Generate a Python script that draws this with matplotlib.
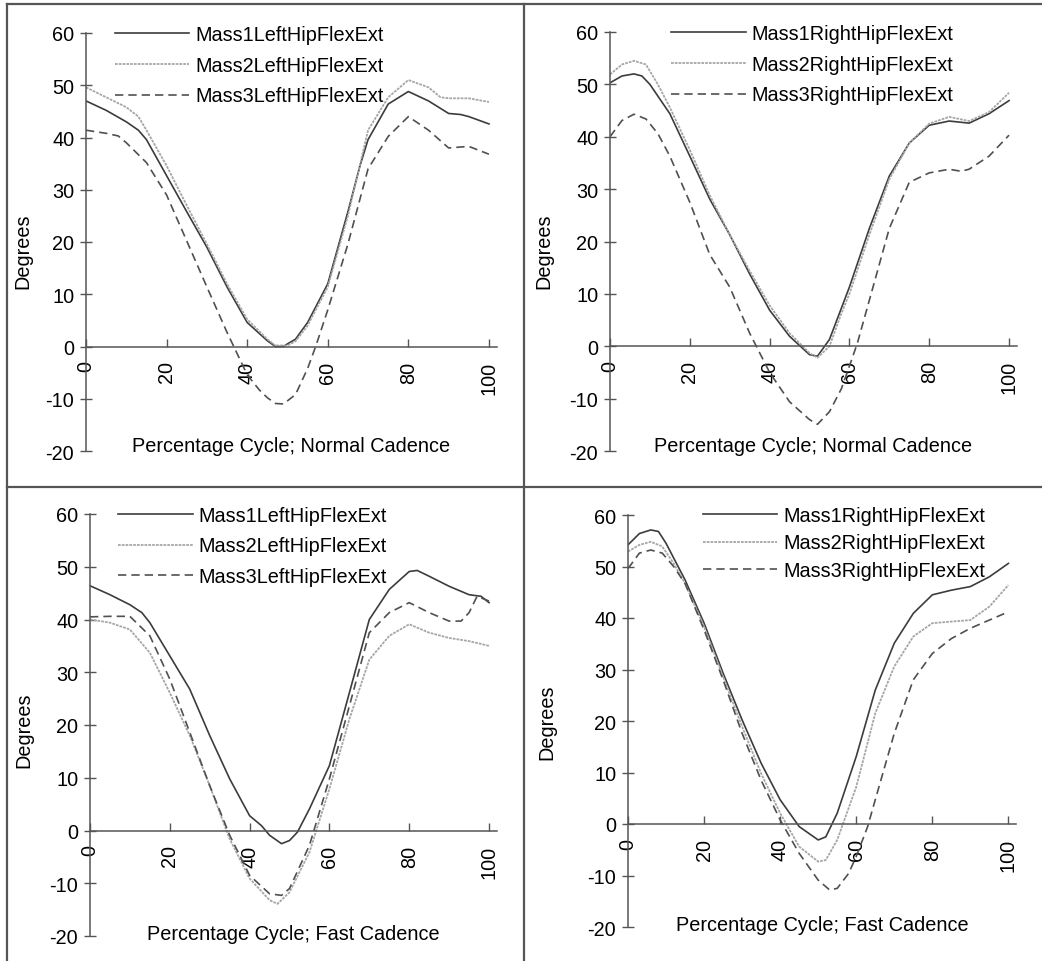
import matplotlib

matplotlib.use("Agg")
import matplotlib.pyplot as plt
from matplotlib.lines import Line2D

plt.rcParams.update({
    "font.family": ["Liberation Sans", "DejaVu Sans"],
    "font.size": 14.3,
    "axes.unicode_minus": False,
})

W, H = 1042, 962
FS = 14.3

# ---- data (percentage cycle -> degrees) ----
# Panel 1: left hip, normal cadence
p1_m1_x = [0, 5, 10, 13, 15, 20, 25, 30, 35, 40, 45, 47, 49, 50, 52, 55, 60, 65, 68, 70, 75, 80, 85, 90, 93, 95, 100]
p1_m1_y = [47, 45.2, 43, 41.4, 39.6, 32.7, 25.8, 19, 11.4, 4.6, 1.1, 0, 0, 0.5, 1.4, 4.6, 12, 25.8, 34.6, 39.6, 46.4, 48.8, 47, 44.6, 44.4, 44, 42.6]
p1_m2_x = [0, 5, 10, 13, 15, 20, 25, 30, 35, 40, 45, 47, 50, 52, 55, 60, 65, 70, 75, 80, 85, 88, 90, 95, 100]
p1_m2_y = [49.6, 47.7, 45.8, 44, 41.4, 34.6, 27, 19.6, 12, 5.2, 1.4, 0.2, 0.2, 1, 4, 11.4, 25, 41.4, 47.7, 51, 49.6, 47.7, 47.5, 47.5, 46.8]
p1_m3_x = [0, 5, 8, 10, 15, 20, 25, 30, 35, 40, 43, 45, 47, 49, 52, 55, 57, 60, 65, 70, 75, 80, 85, 90, 95, 100]
p1_m3_y = [41.4, 40.8, 40.3, 39, 35.2, 29, 20.2, 11.4, 2.7, -5.4, -8.3, -9.8, -10.9, -11, -9.2, -4.2, 0, 7, 19.6, 34, 40.2, 44, 41.4, 38, 38.3, 36.8]

# Panel 2: right hip, normal cadence
p2_m1_x = [0, 3, 6, 8, 10, 15, 20, 25, 30, 35, 40, 45, 50, 52, 55, 60, 65, 70, 75, 80, 85, 90, 95, 100]
p2_m1_y = [50.3, 51.6, 52, 51.6, 50, 44.4, 36.3, 28.1, 21.3, 13.8, 6.9, 1.9, -1.6, -1.9, 1.3, 11.3, 22.5, 32.5, 38.8, 42.2, 43, 42.6, 44.4, 46.9]
p2_m2_x = [0, 3, 6, 9, 12, 15, 20, 25, 30, 35, 40, 45, 50, 52, 55, 58, 60, 65, 70, 75, 80, 85, 90, 95, 100]
p2_m2_y = [51.9, 53.8, 54.5, 53.8, 50, 45.6, 37.5, 28.8, 21.3, 14.4, 7.8, 2.5, -1.3, -2.2, 0, 6.3, 10, 21.3, 31.9, 38.8, 42.5, 43.8, 43, 44.7, 48.4]
p2_m3_x = [0, 3, 6, 9, 12, 15, 20, 25, 30, 35, 40, 45, 50, 52, 55, 58, 60, 62, 65, 70, 75, 80, 85, 88, 90, 95, 100]
p2_m3_y = [40, 43.1, 44.3, 43.4, 40.6, 36.3, 27.5, 17.5, 11.3, 2.5, -5, -10.6, -14, -14.9, -12.5, -8.1, -3.8, 0.6, 8.8, 22.5, 31.3, 33.1, 33.8, 33.4, 33.8, 36.3, 40.3]

# Panel 3: left hip, fast cadence
p3_m1_x = [0, 5, 10, 13, 15, 20, 25, 30, 35, 40, 43, 45, 48, 50, 52, 55, 60, 65, 70, 75, 80, 82, 85, 90, 95, 98, 100]
p3_m1_y = [46.4, 44.7, 42.8, 41.3, 39.4, 33.1, 26.8, 18, 9.8, 2.8, 0.9, -0.9, -2.5, -1.9, -0.3, 4.1, 12.3, 26.1, 40, 45.7, 49.1, 49.3, 48.2, 46.3, 44.7, 44.4, 43.2]
p3_m2_x = [0, 5, 10, 15, 20, 25, 30, 35, 40, 45, 47, 50, 55, 60, 65, 70, 75, 80, 85, 90, 95, 100]
p3_m2_y = [40, 39.4, 38.1, 33.7, 26.1, 18, 8.5, -1.6, -9.1, -13.2, -13.9, -11.7, -4.1, 7.9, 21.1, 32.4, 36.9, 39.1, 37.5, 36.5, 35.9, 35]
p3_m3_x = [0, 5, 10, 15, 20, 25, 30, 35, 40, 45, 48, 50, 55, 60, 65, 70, 75, 80, 85, 90, 93, 95, 97, 100]
p3_m3_y = [40.5, 40.6, 40.6, 36.9, 28.7, 18.6, 8.5, -0.9, -8.5, -12, -12.3, -11, -2.8, 9.8, 23.6, 37.5, 41.3, 43.2, 41.3, 39.7, 39.7, 41.3, 44.4, 43.5]

# Panel 4: right hip, fast cadence
p4_m1_x = [0, 3, 6, 8, 10, 15, 20, 25, 30, 35, 40, 45, 50, 52, 55, 60, 65, 70, 75, 80, 85, 90, 95, 100]
p4_m1_y = [54.2, 56.4, 57.1, 56.8, 54.5, 47.4, 39, 29.3, 20.2, 11.8, 4.7, -0.5, -3.1, -2.5, 2.1, 13.1, 26, 35.1, 40.9, 44.5, 45.4, 46.1, 48, 50.6]
p4_m2_x = [0, 3, 6, 9, 12, 15, 20, 25, 30, 35, 40, 45, 50, 52, 55, 60, 65, 70, 75, 80, 85, 90, 95, 100]
p4_m2_y = [52.9, 54.2, 54.8, 53.9, 50.6, 46.7, 38.3, 28.6, 18.9, 9.8, 2.1, -4.4, -7.3, -7, -3.1, 7.2, 21.5, 30.6, 36.4, 39, 39.3, 39.6, 42.2, 46.4]
p4_m3_x = [0, 3, 6, 9, 12, 15, 20, 25, 30, 35, 40, 45, 50, 53, 55, 58, 60, 63, 65, 70, 75, 80, 85, 90, 95, 100]
p4_m3_y = [49.6, 52.6, 53.2, 52.6, 50, 46.7, 37.7, 28, 17.6, 8.5, 0.8, -5.7, -10.9, -12.8, -12.5, -9.6, -6.3, -0.5, 4.7, 17.6, 28, 33.1, 36, 38, 39.6, 41.2]

left_labels = ["Mass1LeftHipFlexExt", "Mass2LeftHipFlexExt", "Mass3LeftHipFlexExt"]
right_labels = ["Mass1RightHipFlexExt", "Mass2RightHipFlexExt", "Mass3RightHipFlexExt"]
x_ticks = [0, 20, 40, 60, 80, 100]
y_ticks = [-20, -10, 0, 10, 20, 30, 40, 50, 60]

SERIES_STYLE = [
    {"color": "#3c3c3c", "linestyle": "-", "linewidth": 1.2},
    {"color": "#a6a6a6", "linestyle": (0, (1.5, 0.6)), "linewidth": 1.3},
    {"color": "#505050", "linestyle": (0, (5, 3)), "linewidth": 1.2},
]

# pixel boxes: (left px, right px, top px, bottom px), legend (x frac, y frac, spacing),
# ylabel position (axes frac), xlabel y (data)
PANELS = [
    {"box": (86, 497, 34, 452), "x": [p1_m1_x, p1_m2_x, p1_m3_x], "y": [p1_m1_y, p1_m2_y, p1_m3_y],
     "labels": left_labels, "xlabel": "Percentage Cycle; Normal Cadence",
     "leg": (0.07, 1.02, 0.6), "ylab": (-0.13, 0.48), "xlab_y": -19},
    {"box": (610, 1017, 33, 452), "x": [p2_m1_x, p2_m2_x, p2_m3_x], "y": [p2_m1_y, p2_m2_y, p2_m3_y],
     "labels": right_labels, "xlabel": "Percentage Cycle; Normal Cadence",
     "leg": (0.15, 1.02, 0.6), "ylab": (-0.138, 0.48), "xlab_y": -19},
    {"box": (90, 497, 515, 937), "x": [p3_m1_x, p3_m2_x, p3_m3_x], "y": [p3_m1_y, p3_m2_y, p3_m3_y],
     "labels": left_labels, "xlabel": "Percentage Cycle; Fast Cadence",
     "leg": (0.069, 1.02, 0.6), "ylab": (-0.14, 0.49), "xlab_y": -19.5},
    {"box": (628, 1016, 516, 928), "x": [p4_m1_x, p4_m2_x, p4_m3_x], "y": [p4_m1_y, p4_m2_y, p4_m3_y],
     "labels": right_labels, "xlabel": "Percentage Cycle; Fast Cadence",
     "leg": (0.193, 1.022, 0.43), "ylab": (-0.185, 0.5), "xlab_y": -19.5},
]


def draw_panel(fig, cfg):
    l, r, t, b = cfg["box"]
    ax = fig.add_axes([l / W, 1 - b / H, (r - l) / W, (b - t) / H])
    ax.patch.set_alpha(0)
    for xs, ys, style, label in zip(cfg["x"], cfg["y"], SERIES_STYLE, cfg["labels"]):
        ax.plot(xs, ys, label=label, **style)

    ax.set_xlim(0, 102)
    ax.set_ylim(-20, 60)
    for side in ("top", "right"):
        ax.spines[side].set_visible(False)
    ax.spines["bottom"].set_position(("data", 0))
    for side in ("left", "bottom"):
        ax.spines[side].set_color("#555555")
        ax.spines[side].set_linewidth(1.1)
    ax.set_xticks(x_ticks)
    ax.set_yticks(y_ticks)
    ax.tick_params(axis="x", direction="in", length=6, width=1, color="#555555",
                   labelsize=FS, pad=10, labelrotation=90)
    ax.tick_params(axis="y", direction="inout", length=9, width=1, color="#555555",
                   labelsize=FS, pad=4)

    ax.set_ylabel("Degrees", fontsize=FS)
    ax.yaxis.set_label_coords(*cfg["ylab"])
    ax.text(51, cfg["xlab_y"], cfg["xlabel"], fontsize=FS, ha="center", va="center")

    lx, ly, spacing = cfg["leg"]
    ax.legend(loc="upper left", bbox_to_anchor=(lx, ly), frameon=False, fontsize=FS,
              handlelength=3.75, handletextpad=0.3, labelspacing=spacing,
              borderpad=0, borderaxespad=0)


def main():
    fig = plt.figure(figsize=(W / 100, H / 100), dpi=100)
    for cfg in PANELS:
        draw_panel(fig, cfg)

    # panel frame lines
    frame = dict(color="#555555", linewidth=1.6, transform=fig.transFigure)
    fig.add_artist(Line2D([7 / W, 1], [1 - 5 / H, 1 - 5 / H], **frame))
    fig.add_artist(Line2D([7 / W, 7 / W], [0, 1 - 5 / H], **frame))
    fig.add_artist(Line2D([524 / W, 524 / W], [0, 1 - 5 / H], **frame))
    fig.add_artist(Line2D([7 / W, 1], [1 - 488 / H, 1 - 488 / H], **frame))

    fig.savefig("out.png", dpi=100)


if __name__ == "__main__":
    main()
